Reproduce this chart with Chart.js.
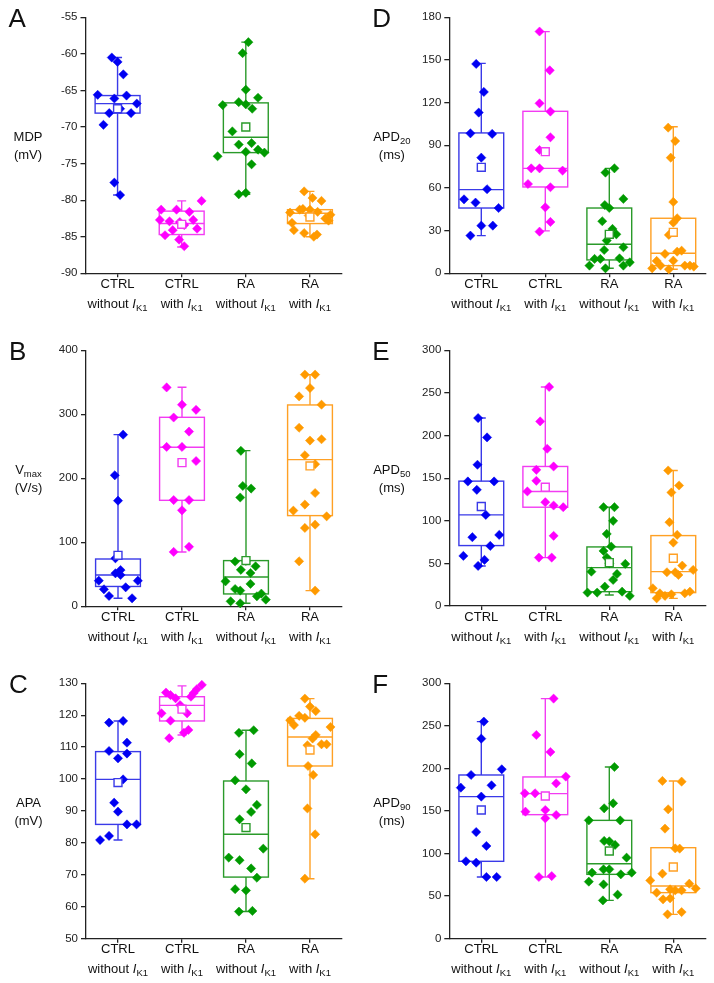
<!DOCTYPE html>
<html>
<head>
<meta charset="utf-8">
<script src="https://cdn.jsdelivr.net/npm/chart.js@4.4.1/dist/chart.umd.min.js"></script>
<style>
  body { margin: 0; background: #fff; }
  #page { position: relative; width: 714px; height: 983px; }
  #page canvas { position: absolute; }
</style>
</head>
<body>
<div id="page">
  <canvas id="panelA" width="357" height="328" style="left:0;top:0"></canvas>
  <canvas id="panelD" width="357" height="328" style="left:357px;top:0"></canvas>
  <canvas id="panelB" width="357" height="328" style="left:0;top:328px"></canvas>
  <canvas id="panelE" width="357" height="328" style="left:357px;top:328px"></canvas>
  <canvas id="panelC" width="357" height="327" style="left:0;top:656px"></canvas>
  <canvas id="panelF" width="357" height="327" style="left:357px;top:656px"></canvas>
</div>
<script>
// categorias (eixo x)
const groupLabels = ["CTRL", "CTRL", "RA", "RA"];
const conditionLabels = ["without", "with", "without", "with"];
const currentLabel = "I";
const currentSub = "K1";

const pointColors = ["#0000f2", "#ff00ff", "#009a00", "#ff9a00"];
const boxColors = ["#3a3ae8", "#f23cf2", "#2a9a2a", "#ffa024"];

// A - MDP (mV)
const mdpValues = [
  [-60.5, -61.1, -62.8, -65.6, -66.1, -65.7, -66.8, -68.1, -67.5, -68.1, -69.7, -77.6, -79.3],
  [-80.1, -81.3, -81.3, -81.6, -82.7, -82.9, -83.0, -83.4, -82.7, -83.9, -84.1, -84.8, -85.4, -86.3],
  [-58.4, -59.9, -64.9, -67.0, -66.6, -66.9, -66.0, -67.5, -70.6, -72.4, -72.2, -73.4, -73.1, -73.5, -74.0, -75.1, -79.2, -79.0],
  [-78.8, -79.7, -80.1, -81.7, -81.3, -81.2, -81.3, -81.6, -82.0, -83.1, -82.5, -82.8, -84.1, -84.5, -85.0, -84.7, -82.1]
];
const mdpJitter = [
  [-0.09, 0, 0.09, -0.31, -0.05, 0.14, 0.30, -0.13, 0.04, 0.21, -0.22, -0.05, 0.04],
  [0.31, -0.32, -0.08, 0.12, -0.34, -0.19, -0.03, 0.04, 0.18, 0.24, -0.14, -0.26, -0.04, 0.04],
  [0.04, -0.05, 0, -0.36, -0.11, 0, 0.19, 0.10, -0.21, -0.11, 0.09, 0, 0.19, 0.29, -0.44, 0.09, -0.11, 0],
  [-0.09, 0.04, 0.18, -0.31, -0.16, -0.11, 0, 0.12, 0.32, -0.28, 0.24, 0.29, -0.25, -0.09, 0.06, 0.11, -0.02]
];
// [min, q1, mediana, q3, max]
const mdpBox = [[-79.3, -68.1, -66.8, -65.7, -60.5], [-86.4, -84.7, -83.2, -81.5, -80.1], [-79.2, -73.5, -71.4, -66.7, -58.4], [-85.0, -83.2, -81.8, -81.3, -78.8]];
const mdpMean = [-67.5, -83.3, -70.0, -82.3];
const mdpTicks = [-90, -55, 5];

// B - Vmax (V/s)
const vmaxValues = [
  [268.2, 204.7, 165.1, 75, 56.7, 51.6, 48.9, 40, 40, 29.7, 26.6, 16.1, 12.5],
  [342, 315, 307, 295, 273, 249, 249, 227, 166, 166, 150, 93, 85],
  [243, 188, 184, 170, 70, 71, 57, 62.5, 52, 39, 35, 27, 24.5, 19.8, 15.6, 10.4, 7.8, 4.7],
  [362, 362, 341, 328, 315, 279, 259, 261, 236, 222, 177, 159, 149.5, 140.6, 122.4, 127.6, 70.3, 24.5]
];
const vmaxJitter = [
  [0.08, -0.05, 0, -0.04, 0.04, -0.04, 0.04, 0.31, -0.30, 0.12, -0.22, -0.14, 0.22],
  [-0.24, 0, 0.22, -0.13, 0.11, -0.24, 0, 0.22, -0.13, 0.11, 0, 0.11, -0.13],
  [-0.08, -0.05, 0.08, -0.09, -0.17, 0, -0.08, 0.15, 0.07, -0.32, 0.07, -0.17, -0.09, 0.24, 0.17, 0.31, -0.24, -0.09],
  [-0.08, 0.08, 0, -0.17, 0.18, -0.17, 0, 0.18, -0.08, 0.08, 0.08, -0.08, -0.26, 0.26, -0.08, 0.08, -0.17, 0.08]
];
const vmaxBox = [[12.5, 31, 48.9, 73.9, 268.2], [84.9, 165.6, 248.4, 295.3, 342.2], [4.7, 19.3, 45.8, 71.4, 243.2], [24.5, 141.7, 229.2, 314.6, 362]];
const vmaxMean = [79.7, 224.5, 71.4, 219.3];
const vmaxTicks = [0, 400, 100];

// C - APA (mV)
const apaValues = [
  [118.2, 117.7, 111.4, 108.8, 108, 106.5, 99.9, 92.6, 89.8, 85.8, 85.8, 82.2, 80.9],
  [129.5, 128.1, 126.9, 127.1, 126.3, 125.3, 125.8, 123.2, 120.6, 120.6, 118.3, 115.4, 114.5, 112.8],
  [115.3, 114.5, 107.8, 104.9, 99.6, 96.8, 91.9, 89.7, 87.4, 78.2, 75.4, 74.6, 72.0, 69.1, 65.5, 65.1, 58.5, 58.7],
  [125.2, 122.7, 121.3, 119.8, 119.2, 118.4, 116.9, 116.3, 113.8, 112.7, 110.6, 110.9, 110.9, 104.1, 101.3, 90.8, 82.7, 68.8]
];
const apaJitter = [
  [0.08, -0.14, 0.14, -0.14, 0.14, 0, 0.08, -0.06, 0, 0.14, 0.29, -0.14, -0.28],
  [0.31, 0.23, 0.18, -0.25, -0.18, -0.10, 0.14, -0.03, -0.32, 0.08, -0.18, 0.10, 0.03, -0.2],
  [0.12, -0.11, -0.10, 0.09, -0.17, 0, 0.17, 0.08, -0.10, 0.27, -0.27, -0.10, 0.08, 0.17, -0.17, 0, -0.11, 0.10],
  [-0.08, 0, 0.09, -0.17, -0.08, -0.31, -0.25, 0.32, 0.09, 0.04, -0.04, 0.18, 0.26, -0.03, 0.05, -0.04, 0.08, -0.08]
];
const apaBox = [[80.9, 85.8, 99.9, 108.6, 118.2], [113.8, 118.2, 123.1, 125.8, 129.2], [58.5, 69.3, 82.7, 99.4, 115.3], [68.8, 104.1, 113.2, 119, 125.2]];
const apaMean = [98.9, 121.9, 84.8, 109.1];
const apaTicks = [50, 130, 10];

// D - APD20 (ms)
const apd20Values = [
  [147.2, 127.5, 113, 98.4, 98, 81.3, 59.1, 52, 49.7, 45.9, 33.5, 33.5, 26.5],
  [170, 142.7, 119.5, 113.7, 95.6, 86.7, 73.8, 73.8, 72.2, 62.8, 60.5, 46.4, 36.1, 29.3],
  [73.8, 70.8, 52.3, 48, 45.9, 36.6, 31.2, 27.4, 23, 18.3, 16.4, 10.1, 10.1, 10.5, 7.7, 5.4, 5.4, 3.5],
  [102.4, 93, 81.3, 50.2, 38.7, 35.6, 27, 13.6, 15.2, 15.9, 8.7, 8.9, 5.4, 5.4, 4.7, 5.4, 3.5, 2.8]
];
const apd20Jitter = [
  [-0.08, 0.04, -0.04, -0.17, 0.17, 0, 0.09, -0.27, -0.09, 0.27, 0, 0.18, -0.17],
  [-0.09, 0.07, -0.09, 0.08, 0.08, -0.09, -0.22, -0.09, 0.27, -0.27, 0.08, 0, 0.08, -0.09],
  [0.08, -0.06, 0.22, -0.07, 0, -0.11, 0.05, 0.11, -0.04, 0.22, -0.08, -0.23, -0.14, 0.16, 0.32, -0.31, 0.22, -0.06],
  [-0.08, 0.03, -0.04, 0, 0.06, 0, -0.07, -0.13, 0.06, 0.13, -0.26, 0, 0.18, 0.26, 0.32, -0.20, -0.33, -0.07]
];
const apd20Box = [[26.5, 45.9, 58.8, 98.7, 147.6], [29.8, 60.7, 73.8, 113.9, 169.9], [3.5, 9.4, 20.4, 45.9, 73.8], [2.8, 5.4, 14.1, 38.7, 103]];
const apd20Mean = [74.5, 85.5, 27.4, 28.8];
const apd20Ticks = [0, 180, 30];

// E - APD50 (ms)
const apd50Values = [
  [220.5, 197.8, 165.7, 146.1, 146.1, 136.3, 106.9, 80.7, 83.4, 70.5, 58.8, 54.1, 47],
  [257, 216.6, 184.5, 163.7, 159.8, 146.9, 134.4, 121.8, 117.9, 115.9, 82.3, 56.8, 56.8],
  [115.9, 115.9, 99.9, 84.6, 69.7, 64.6, 56.8, 50.1, 49.4, 40.3, 37.6, 30.6, 22.7, 15.7, 15.7, 16.8, 11.8],
  [159, 141.4, 133.2, 98.3, 83.4, 74.4, 47.4, 42.3, 39.6, 39.6, 36.4, 20.8, 14.9, 13.7, 14.9, 16.8, 11.8, 9]
];
const apd50Jitter = [
  [-0.05, 0.09, -0.06, -0.21, 0.20, -0.07, 0.07, -0.14, 0.28, 0.14, -0.28, 0.05, -0.05],
  [0.06, -0.08, 0.03, 0.13, -0.14, -0.14, -0.28, 0, 0.13, 0.28, 0.13, -0.10, 0.10],
  [-0.09, 0.08, 0.06, -0.04, 0.03, -0.09, -0.04, 0, 0.25, -0.28, 0.12, 0.06, -0.07, -0.34, -0.19, 0.20, 0.32],
  [-0.08, 0.09, -0.03, -0.06, 0.06, 0, 0.14, 0.31, -0.10, 0.03, 0.08, -0.32, -0.21, -0.03, 0.18, 0.26, -0.13, -0.26]
];
const apd50Box = [[47, 70.9, 106.9, 146.5, 220.5], [56.8, 115.9, 134.4, 163.7, 257], [12.9, 16.8, 45, 69.3, 116], [9, 15.7, 40.3, 82.6, 159]];
const apd50Mean = [116.7, 139.4, 50.9, 56];
const apd50Ticks = [0, 300, 50];

// F - APD90 (ms)
const apd90Values = [
  [255, 235, 199, 192.3, 177.4, 180.2, 166.9, 125.3, 108.9, 90.9, 89.3, 72.5, 72.5],
  [282, 239.3, 219.3, 190.4, 182.5, 170.8, 170.8, 149.2, 151.2, 145.3, 141.4, 72.5, 73.6],
  [201.7, 159, 153.2, 139, 139, 114.8, 114.4, 110.1, 95.2, 81.5, 81.5, 77.6, 75.6, 77.6, 67, 63.8, 51.7, 45],
  [185.3, 184.5, 152, 129.3, 106.1, 105.8, 76.4, 68.5, 64.6, 54.1, 58, 56.8, 56.8, 59.1, 46.2, 47.4, 28.6, 31.3]
];
const apd90Jitter = [
  [0.04, 0, 0.32, -0.16, -0.32, 0.16, 0, -0.08, 0.08, -0.24, -0.08, 0.08, 0.24],
  [0.13, -0.14, 0.08, 0.32, 0.17, -0.32, -0.16, -0.31, 0, 0.17, 0, -0.10, 0.10],
  [0.08, 0.06, -0.08, -0.32, 0.17, -0.08, 0, 0.09, 0.27, -0.09, 0, -0.27, 0.18, 0.35, -0.32, -0.09, 0.13, -0.10],
  [-0.17, 0.13, -0.08, -0.13, 0.03, 0.10, -0.17, -0.36, 0.25, -0.26, -0.05, 0.03, 0.13, 0.35, -0.16, -0.05, -0.09, 0.13]
];
const apd90Box = [[72.5, 90.9, 166.9, 192.3, 255], [72.5, 145.7, 170.4, 190, 282], [45, 75.6, 88.1, 139, 201.7], [28.6, 54.1, 61.9, 106.9, 185.3]];
const apd90Mean = [151.2, 167.6, 103, 84.2];
const apd90Ticks = [0, 300, 50];

const FONT = '"Liberation Sans", Arial, sans-serif';
const Y_AXIS_W = 50;
const X_AXIS_H = 10;
const BOX_HALF = 0.35;
const CAP_HALF = 0.07;

document.addEventListener("DOMContentLoaded", function () {
  drawPanel("panelA", "A", [[{ t: "MDP" }], [{ t: "(mV)" }]], mdpValues, mdpJitter, mdpBox, mdpMean, mdpTicks, { left: 85.5, top: 17.3, right: 342, bottom: 273.3 });
  drawPanel("panelB", "B", [[{ t: "V" }, { t: "max", sub: true }], [{ t: "(V/s)" }]], vmaxValues, vmaxJitter, vmaxBox, vmaxMean, vmaxTicks, { left: 86, top: 22.3, right: 342, bottom: 278.3 });
  drawPanel("panelC", "C", [[{ t: "APA" }], [{ t: "(mV)" }]], apaValues, apaJitter, apaBox, apaMean, apaTicks, { left: 86, top: 27.3, right: 342, bottom: 282.7 });
  drawPanel("panelD", "D", [[{ t: "APD" }, { t: "20", sub: true }], [{ t: "(ms)" }]], apd20Values, apd20Jitter, apd20Box, apd20Mean, apd20Ticks, { left: 92.3, top: 17.3, right: 348.3, bottom: 273.3 });
  drawPanel("panelE", "E", [[{ t: "APD" }, { t: "50", sub: true }], [{ t: "(ms)" }]], apd50Values, apd50Jitter, apd50Box, apd50Mean, apd50Ticks, { left: 92.3, top: 22.3, right: 348.3, bottom: 278 });
  drawPanel("panelF", "F", [[{ t: "APD" }, { t: "90", sub: true }], [{ t: "(ms)" }]], apd90Values, apd90Jitter, apd90Box, apd90Mean, apd90Ticks, { left: 92.3, top: 27.3, right: 348.3, bottom: 282.7 });
});

// texto com subscrito / itálico, centrado em cx
function drawRich(ctx, parts, cx, baseline) {
  const fontOf = (p) => (p.italic ? "italic " : "") + (p.sub ? "9.5px " : "13px ") + FONT;
  let total = 0;
  parts.forEach((p) => { ctx.font = fontOf(p); total += ctx.measureText(p.t).width; });
  let x = cx - total / 2;
  ctx.textAlign = "left";
  ctx.textBaseline = "alphabetic";
  parts.forEach((p) => {
    ctx.font = fontOf(p);
    ctx.fillText(p.t, x, baseline + (p.sub ? 3 : 0));
    x += ctx.measureText(p.t).width;
  });
}

function drawPanel(canvasId, letter, title, values, jitter, box, mean, yTicks, area) {
  const canvas = document.getElementById(canvasId);
  const W = canvas.width, H = canvas.height;

  const datasets = [{
    data: mean.map((m, i) => ({ x: i + 1, y: m })),
    pointStyle: "rect",
    pointRadius: 5.6,
    pointBackgroundColor: "#fff",
    pointBorderColor: boxColors,
    pointBorderWidth: 1.4,
    clip: false,
  }];
  values.forEach((vals, i) => {
    datasets.push({
      data: vals.map((v, k) => ({ x: i + 1 + jitter[i][k], y: v })),
      pointStyle: "rectRot",
      pointRadius: 4.6,
      pointBackgroundColor: pointColors[i],
      pointBorderColor: pointColors[i],
      pointBorderWidth: 0.5,
      clip: false,
    });
  });

  const decor = {
    id: "decor",
    beforeDatasetsDraw(chart) {
      const { ctx, scales: { x, y } } = chart;
      ctx.save();
      ctx.lineWidth = 1.4;
      box.forEach((b, i) => {
        const cx = x.getPixelForValue(i + 1);
        const hw = x.getPixelForValue(i + 1 + BOX_HALF) - cx;
        const cw = x.getPixelForValue(i + 1 + CAP_HALF) - cx;
        const [yMin, yQ1, yMed, yQ3, yMax] = b.map((v) => y.getPixelForValue(v));
        ctx.strokeStyle = boxColors[i];
        ctx.strokeRect(cx - hw, yQ3, 2 * hw, yQ1 - yQ3);
        ctx.beginPath();
        ctx.moveTo(cx - hw, yMed); ctx.lineTo(cx + hw, yMed);
        ctx.moveTo(cx, yQ3); ctx.lineTo(cx, yMax);
        ctx.moveTo(cx, yQ1); ctx.lineTo(cx, yMin);
        ctx.moveTo(cx - cw, yMax); ctx.lineTo(cx + cw, yMax);
        ctx.moveTo(cx - cw, yMin); ctx.lineTo(cx + cw, yMin);
        ctx.stroke();
      });
      ctx.restore();
    },
    afterDraw(chart) {
      const { ctx, chartArea, scales: { x } } = chart;
      ctx.save();
      ctx.fillStyle = "#111";
      // letra do painel
      ctx.font = "26px " + FONT;
      ctx.textAlign = "left";
      ctx.textBaseline = "alphabetic";
      ctx.fillText(letter, chartArea.left - 77, chartArea.top + 9.5);
      // título do eixo y (horizontal)
      const mid = (chartArea.top + chartArea.bottom) / 2;
      drawRich(ctx, title[0], chartArea.left - 57.5, mid - 4);
      drawRich(ctx, title[1], chartArea.left - 57.5, mid + 14);
      // rótulos do eixo x
      groupLabels.forEach((g, i) => {
        const cx = x.getPixelForValue(i + 1);
        drawRich(ctx, [{ t: g }], cx, chartArea.bottom + 14.5);
        drawRich(ctx, [{ t: conditionLabels[i] + " " }, { t: currentLabel, italic: true }, { t: currentSub, sub: true }], cx, chartArea.bottom + 34.5);
      });
      ctx.restore();
    },
  };

  const axisGrid = { display: true, drawOnChartArea: false, drawTicks: true, tickLength: 4, color: "#222", lineWidth: 1.3 };
  const axisBorder = { display: true, color: "#222", width: 1.3 };

  new Chart(canvas.getContext("2d"), {
    type: "scatter",
    data: { datasets: datasets },
    options: {
      responsive: false,
      animation: false,
      events: [],
      layout: {
        padding: { left: area.left - Y_AXIS_W, top: area.top, right: W - area.right, bottom: H - area.bottom - X_AXIS_H },
      },
      plugins: { legend: { display: false }, tooltip: { enabled: false } },
      scales: {
        x: {
          type: "linear",
          min: 0.5,
          max: 4.5,
          afterBuildTicks: (s) => { s.ticks = [1, 2, 3, 4].map((v) => ({ value: v })); },
          afterFit: (s) => { s.height = X_AXIS_H; },
          ticks: { display: false },
          grid: axisGrid,
          border: axisBorder,
        },
        y: {
          min: yTicks[0],
          max: yTicks[1],
          afterFit: (s) => { s.width = Y_AXIS_W; },
          ticks: { stepSize: yTicks[2], padding: 3, color: "#222", font: { family: FONT, size: 11.5 } },
          grid: { ...axisGrid, tickLength: 5 },
          border: axisBorder,
        },
      },
    },
    plugins: [decor],
  });
}
</script>
</body>
</html>
